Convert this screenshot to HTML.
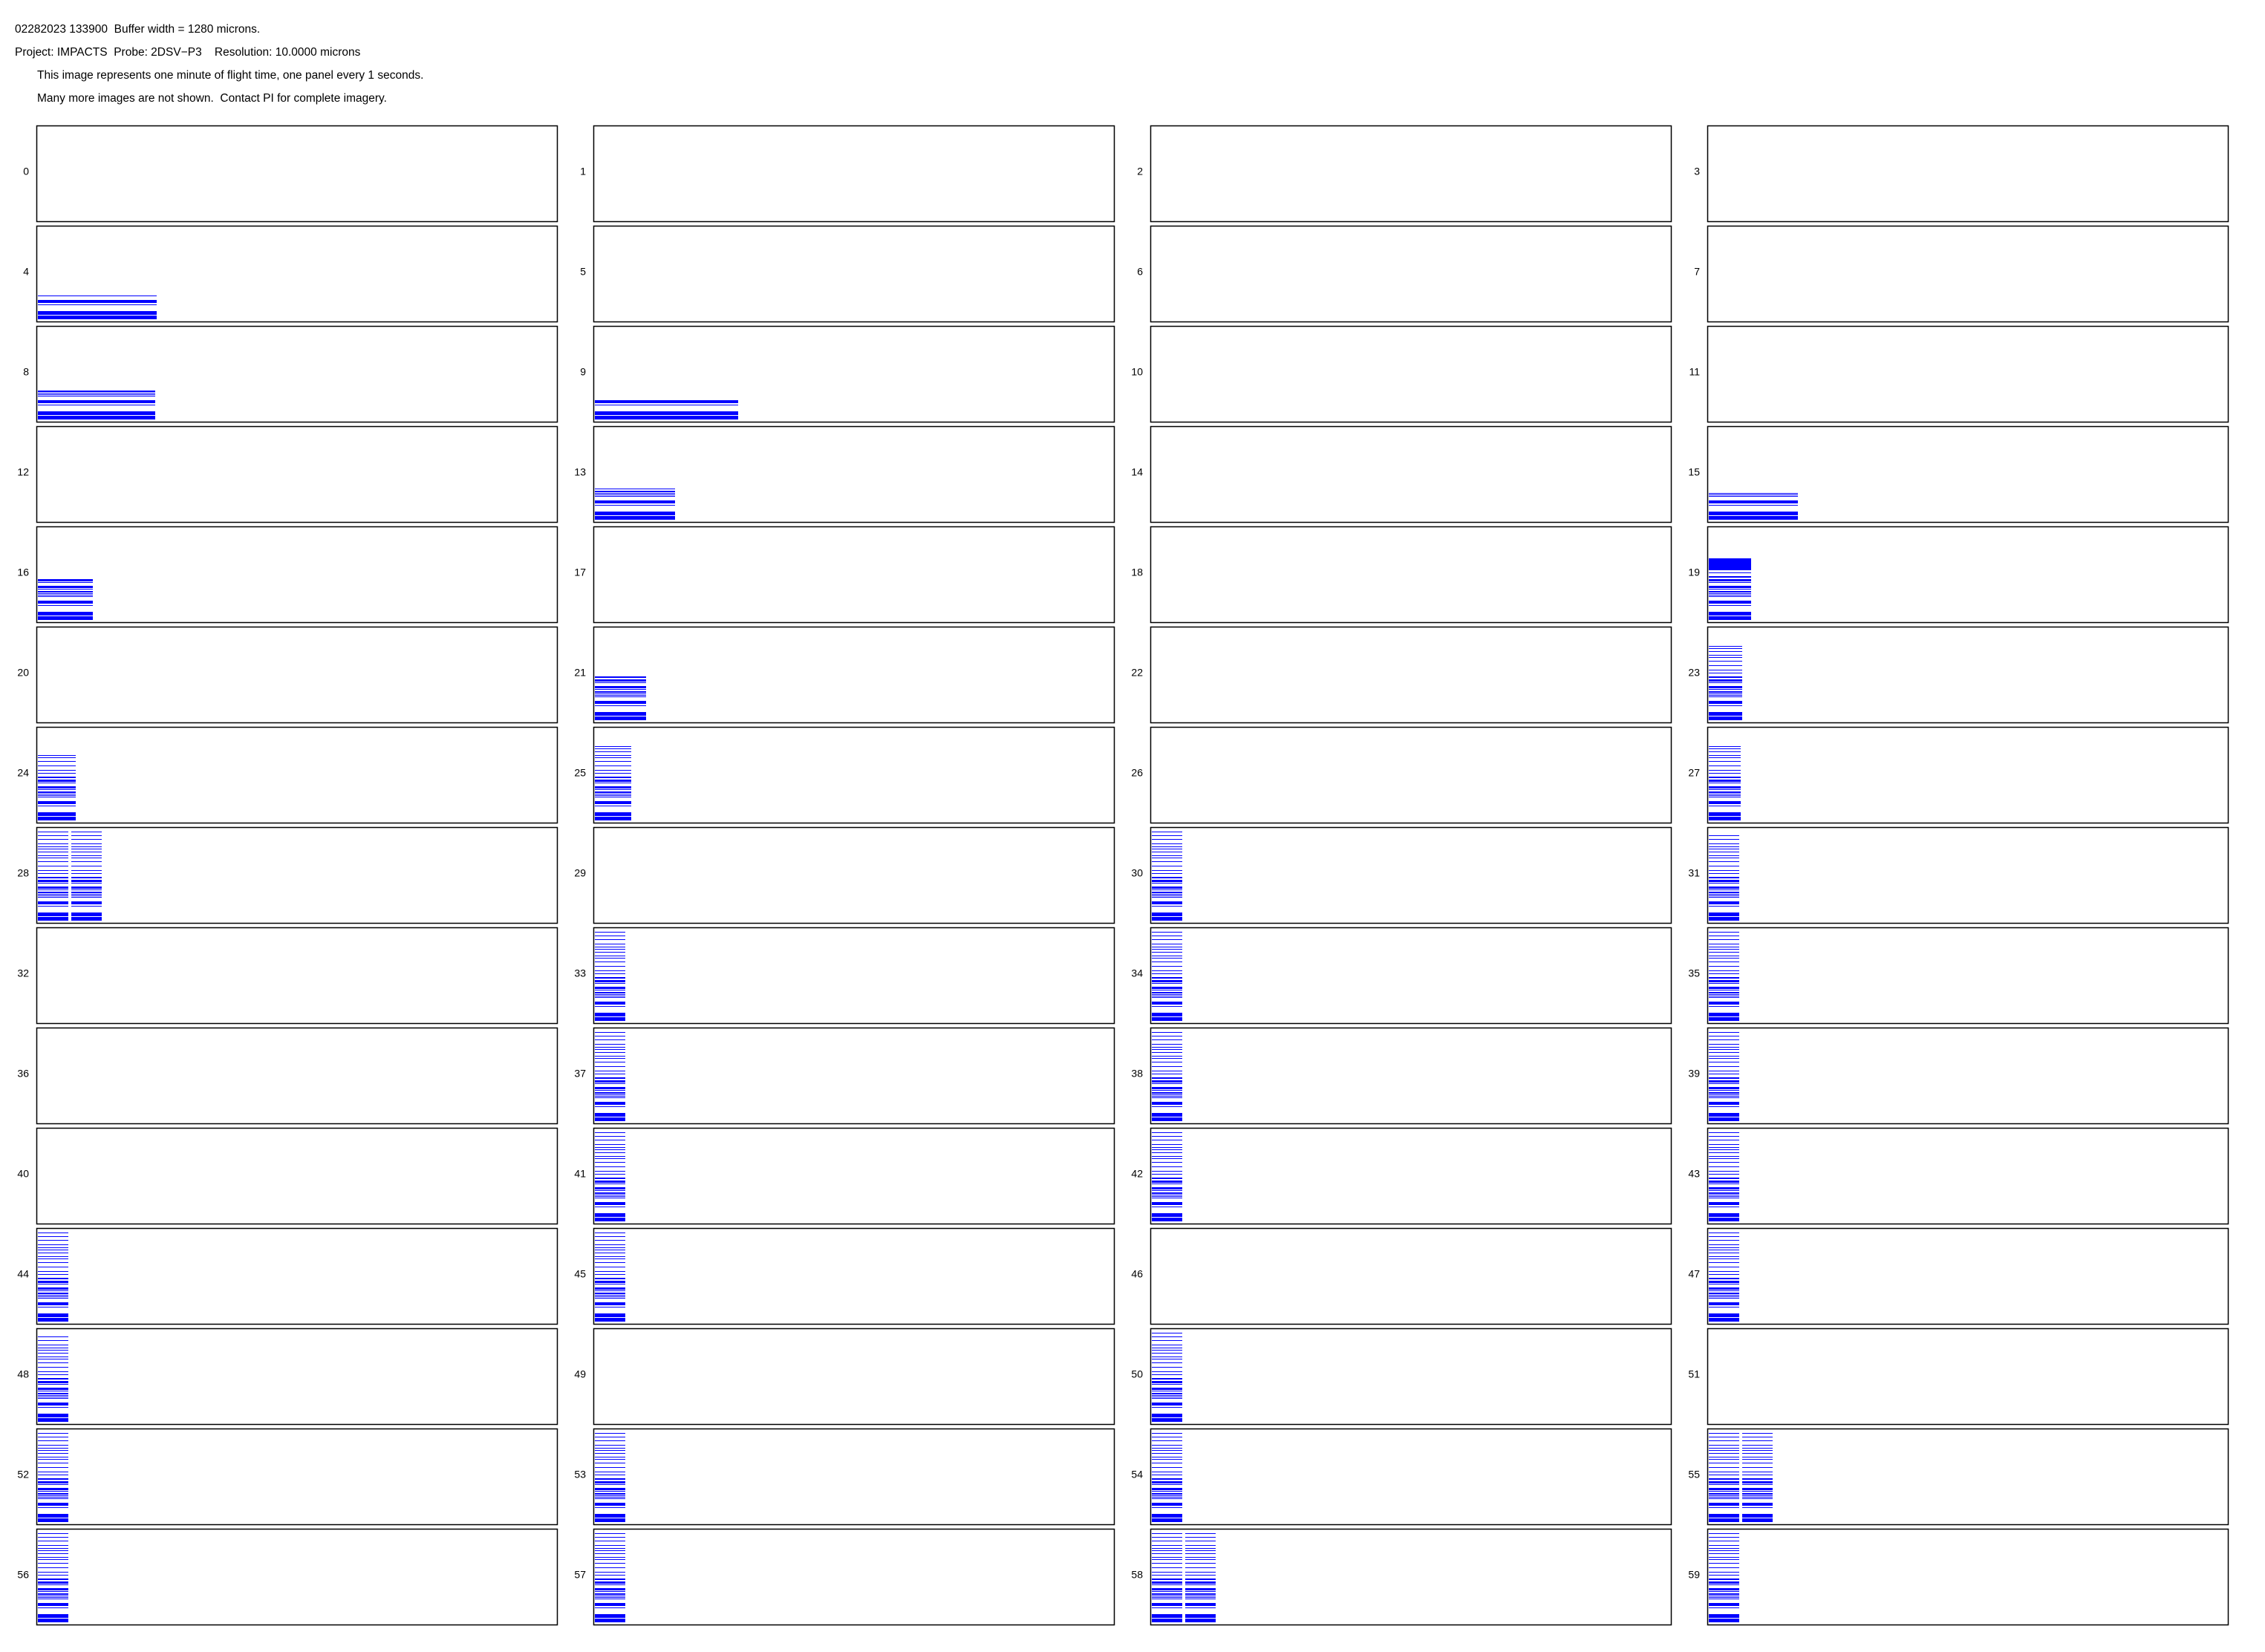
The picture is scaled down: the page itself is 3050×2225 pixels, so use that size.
<!DOCTYPE html>
<html><head><meta charset="utf-8"><style>
html,body{margin:0;padding:0;background:#fff;}
svg{display:block;}
text{font-family:"Liberation Sans",sans-serif;fill:#000;white-space:pre;}
</style></head><body>
<svg id="chart" width="3050" height="2225" viewBox="0 0 3050 2225" xmlns="http://www.w3.org/2000/svg" xml:space="preserve">
<rect width="3050" height="2225" fill="#fff"/>
<g font-size="15.5">
<text x="20" y="44">02282023 133900  Buffer width = 1280 microns.</text>
<text x="20" y="75">Project: IMPACTS  Probe: 2DSV−P3    Resolution: 10.0000 microns</text>
<text x="50" y="106">This image represents one minute of flight time, one panel every 1 seconds.</text>
<text x="50" y="137">Many more images are not shown.  Contact PI for complete imagery.</text>
</g>
<g id="panels"></g>
</svg>
<script>
// panel indices that contain imagery, with strip count, strip width (px) and filled height (px)
const imgPanels = [4,8,9,13,15,16,19,21,23,24,25,27,28,30,31,33,34,35,37,38,39,41,42,43,44,45,47,48,50,52,53,54,55,56,57,58,59];
const stripCounts = [1,1,1,1,1,1,1,1,1,1,1,1,2,1,1,1,1,1,1,1,1,1,1,1,1,1,1,1,1,1,1,1,2,1,1,2,1];
const stripWidths = [160,158,193,108,120,74,57,69,45,51,49,43,41,41,41,41,41,41,41,41,41,41,41,41,41,41,41,41,41,41,41,41,41,41,41,41,41];
const fillHeights = [35,43,31,47,41,58,86,64,103,92,104,106,124,126,120,126,126,126,126,126,126,126,126,126,126,126,126,120,126,126,126,126,126,126,126,126,126];
const topBlocks = [0,0,0,0,0,0,15,0,0,0,0,0,0,0,0,0,0,0,0,0,0,0,0,0,0,0,0,0,0,0,0,0,0,0,0,0,0];

const NS='http://www.w3.org/2000/svg';
const g=document.getElementById('panels');
const X0=49, Y0=169, PW=701, PH=129, DX=750, DY=135;
const texture=[[3,5],[9,5],[22,1],[25,4],[34,1],[36,1],[38,1],[40,2],[44,1],[46,3],[53,1],[55,3],[60,2],[66,1],[70,1],[76,1],[82,1],[87,1],[90,1],[95,1],[99,1],[102,1],[106,1],[112,1],[117,1],[122,1]];

for(let i=0;i<60;i++){
  const col=i%4,row=Math.floor(i/4);
  const x=X0+col*DX,y=Y0+row*DY;
  const pg=document.createElementNS(NS,'g');
  
  
  const r=document.createElementNS(NS,'rect');
  r.setAttribute('x',x+0.5);r.setAttribute('y',y+0.5);r.setAttribute('width',PW);r.setAttribute('height',PH);
  r.setAttribute('fill','none');r.setAttribute('stroke','#000');r.setAttribute('stroke-width','1.5');
  
  
  pg.appendChild(r);
  const t=document.createElementNS(NS,'text');
  t.setAttribute('x',x-10);t.setAttribute('y',y+PH/2+2);t.setAttribute('text-anchor','end');t.setAttribute('font-size','14');
  t.textContent=i;
  
  
  pg.appendChild(t);
  const k=imgPanels.indexOf(i);
  if(k>=0){
    const bottom=y+PH;
    for(let s=0;s<stripCounts[k];s++){
      const sx=x+2+s*(stripWidths[k]+4);
      const sg=document.createElementNS(NS,'g');
      
      
      for(const [off,th] of texture){
        if(off+th>fillHeights[k]-topBlocks[k]) continue;
        const b=document.createElementNS(NS,'rect');
        b.setAttribute('x',sx);b.setAttribute('y',bottom-off-th);
        b.setAttribute('width',stripWidths[k]);b.setAttribute('height',th);
        b.setAttribute('fill','#0000ff');
        sg.appendChild(b);
      }
      if(topBlocks[k]>0){
        const tb=document.createElementNS(NS,'rect');
        tb.setAttribute('x',sx);tb.setAttribute('y',bottom-fillHeights[k]);
        tb.setAttribute('width',stripWidths[k]);tb.setAttribute('height',topBlocks[k]);
        tb.setAttribute('fill','#0000ff');
        sg.appendChild(tb);
      }
      pg.appendChild(sg);
    }
  }
  g.appendChild(pg);
}
</script>
</body></html>
